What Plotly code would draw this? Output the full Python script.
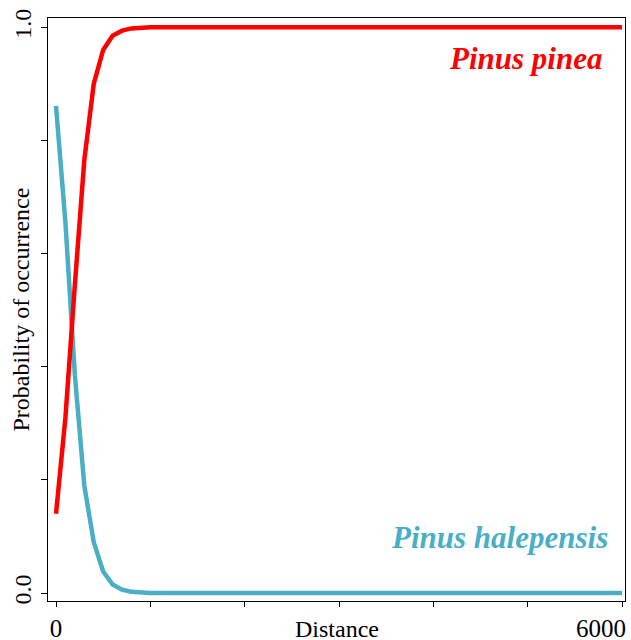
import plotly.graph_objects as go

distance = [0, 100, 200, 300, 400, 500, 600, 700, 800, 900, 1000,
            1500, 2000, 3000, 4000, 5000, 6000]
pinus_pinea = [0.14, 0.31, 0.545, 0.765, 0.90, 0.96, 0.985, 0.994, 0.998, 0.999, 1.0,
               1.0, 1.0, 1.0, 1.0, 1.0, 1.0]
pinus_halepensis = [0.861, 0.655, 0.385, 0.19, 0.09, 0.038, 0.015, 0.006, 0.002, 0.001, 0.0,
                    0.0, 0.0, 0.0, 0.0, 0.0, 0.0]

x_tickvals = [0, 1000, 2000, 3000, 4000, 5000, 6000]
x_ticktext = ["0", "", "", "", "", "", ""]
y_tickvals = [0.0, 0.2, 0.4, 0.6, 0.8, 1.0]
y_ticktext = ["0.0", "", "", "", "", "1.0"]

RED = "#FF0000"
TEAL = "#4AAFC6"
FONT = "Liberation Serif"

fig = go.Figure()
fig.add_trace(go.Scatter(x=distance, y=pinus_halepensis, mode="lines",
                         line=dict(color=TEAL, width=4.5), showlegend=False))
fig.add_trace(go.Scatter(x=distance, y=pinus_pinea, mode="lines",
                         line=dict(color=RED, width=4.5), showlegend=False))

fig.add_annotation(x=5809, y=0.945, xref="x", yref="y", text="<b><i>Pinus pinea</i></b>",
                   showarrow=False, xanchor="right", yanchor="middle",
                   font=dict(family=FONT, size=31, color=RED))
fig.add_annotation(x=5873, y=0.098, xref="x", yref="y", text="<b><i>Pinus halepensis</i></b>",
                   showarrow=False, xanchor="right", yanchor="middle",
                   font=dict(family=FONT, size=31, color=TEAL))
fig.add_annotation(x=1.005, y=-0.02, xref="paper", yref="paper", text="6000",
                   showarrow=False, xanchor="right", yanchor="top",
                   font=dict(family=FONT, size=25, color="black"))
# axis titles
fig.add_annotation(x=0.5, y=-0.0223, xref="paper", yref="paper", text="Distance",
                   showarrow=False, xanchor="center", yanchor="top",
                   font=dict(family=FONT, size=24, color="black"))
fig.add_annotation(x=-0.0485, y=0.5, xref="paper", yref="paper",
                   text="Probability of occurrence", textangle=-90,
                   showarrow=False, xanchor="center", yanchor="middle",
                   font=dict(family=FONT, size=24, color="black"))

fig.update_layout(
    width=631, height=640,
    margin=dict(l=48, r=6, t=18, b=39),
    paper_bgcolor="white", plot_bgcolor="white",
    font=dict(family=FONT, size=24, color="black"),
    xaxis=dict(range=[-84.8, 6031.8], tickvals=x_tickvals, ticktext=x_ticktext,
               ticks="outside", ticklen=5, tickcolor="black", tickwidth=1,
               showline=True, linecolor="black", linewidth=1, mirror=True,
               showgrid=False, zeroline=False, automargin=False,
               tickfont=dict(family=FONT, size=25)),
    yaxis=dict(range=[-0.01414, 1.0164], tickvals=y_tickvals, ticktext=y_ticktext,
               ticks="outside", ticklen=6, tickcolor="black", tickwidth=1,
               tickangle=-90, automargin=False,
               showline=True, linecolor="black", linewidth=1, mirror=True,
               showgrid=False, zeroline=False,
               tickfont=dict(family=FONT, size=24)),
)

fig.write_html("out.html")
